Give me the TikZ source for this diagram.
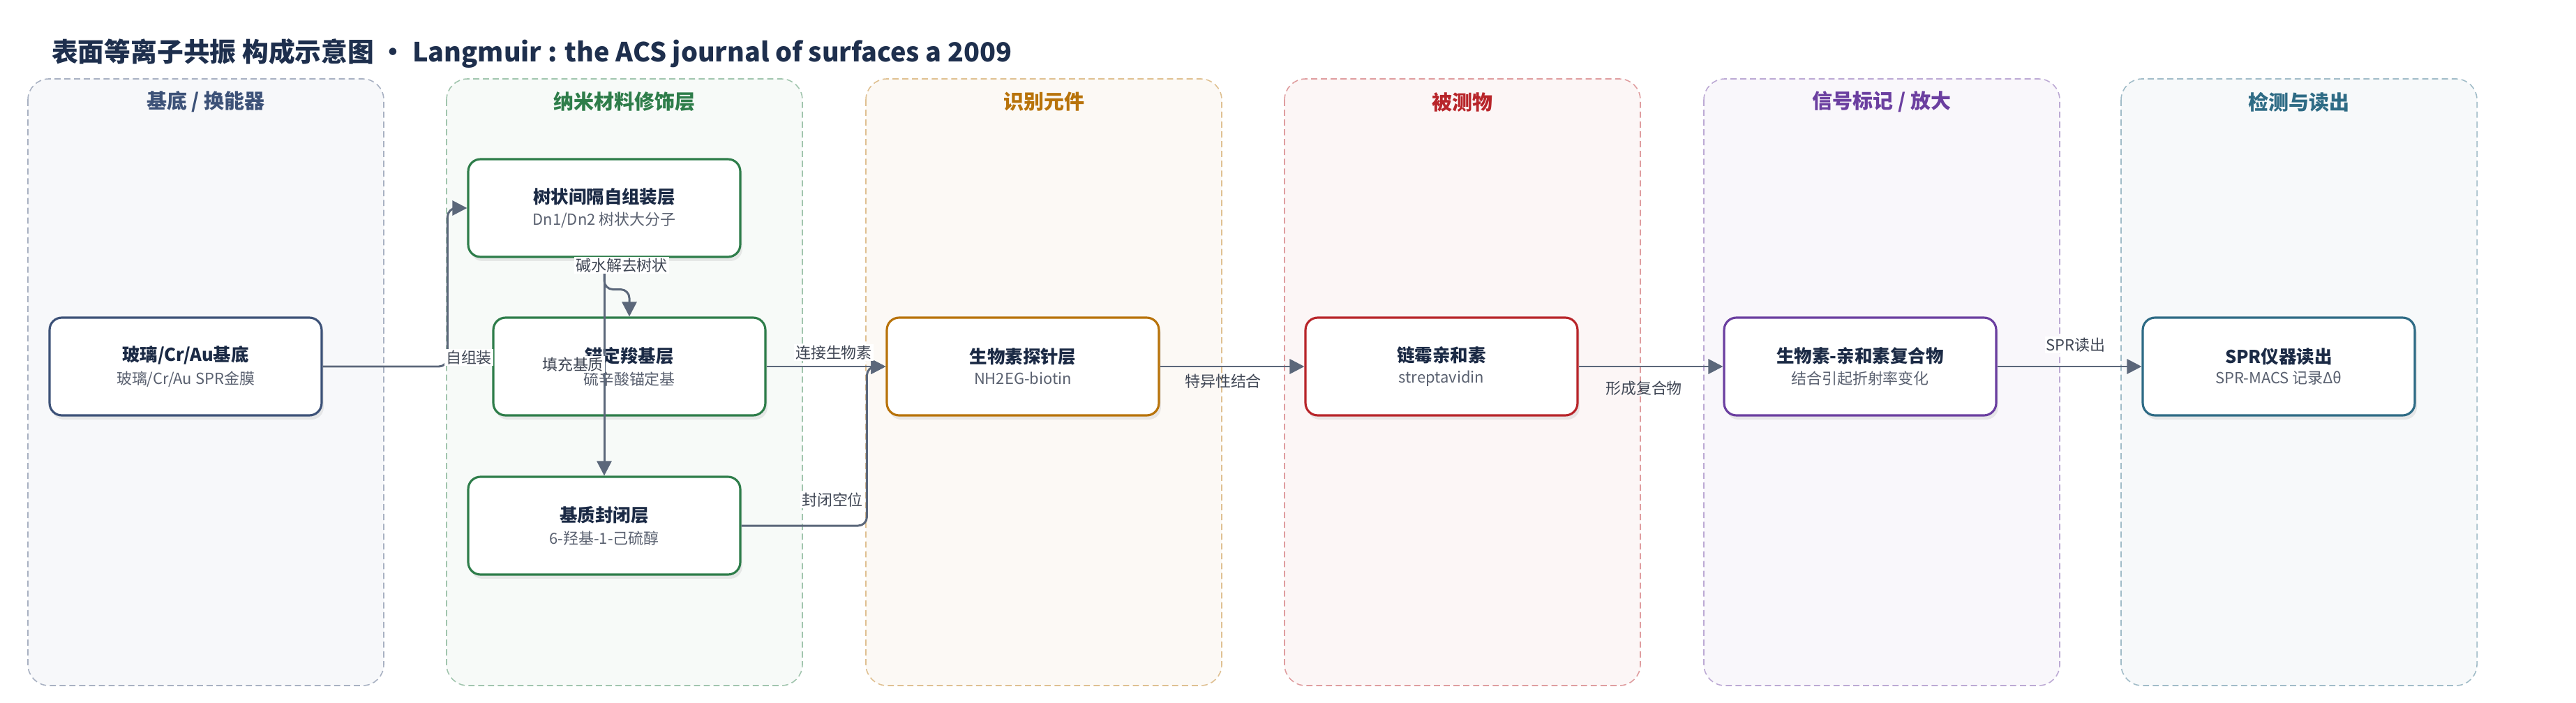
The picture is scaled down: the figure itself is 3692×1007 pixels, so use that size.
\documentclass[tikz,border=0pt]{standalone}
\usepackage{fontspec}
\setmainfont{Noto Sans CJK SC}
\usepackage{xcolor}
\usetikzlibrary{arrows.meta, positioning, calc, shadows}

\definecolor{titlec}{HTML}{1E2F4D}
\definecolor{edgec}{HTML}{5B677A}
\definecolor{labelc}{HTML}{3F4654}
\definecolor{subc}{HTML}{5A6170}
\definecolor{navyc}{HTML}{3D5278}
\definecolor{greenc}{HTML}{2E7D4A}
\definecolor{orangec}{HTML}{B8730A}
\definecolor{redc}{HTML}{B8252A}
\definecolor{purplec}{HTML}{6B3FA0}
\definecolor{tealc}{HTML}{2E6B85}

\newcommand{\boxtitle}[1]{{\fontsize{14.5}{18}\selectfont\bfseries\color{titlec!90!black}#1}}
\newcommand{\boxsub}[1]{{\fontsize{12.5}{15}\selectfont\color{subc}#1}}

\begin{document}
\begin{tikzpicture}[x=0.02cm, y=-0.02cm,
    lane/.style={draw=#1!45, fill=#1!4, dash pattern=on 5pt off 3pt, line width=0.9pt, rounded corners=0.6cm},
    lanetitle/.style={text=#1, font=\fontsize{16.5}{20}\selectfont\bfseries},
    box/.style={draw=#1, fill=white, line width=1.8pt, rounded corners=0.35cm,
        minimum width=7.8cm, minimum height=2.8cm, align=center,
        drop shadow={opacity=0.15, shadow xshift=0.06cm, shadow yshift=-0.12cm}},
    edge/.style={draw=edgec, line width=1.7pt, -{Triangle[length=0.42cm,width=0.42cm]}},
    elabel/.style={text=labelc, fill=white, inner sep=1pt, font=\fontsize{12.5}{15}\selectfont}]
    \useasboundingbox (0,0) rectangle (3692,1007);
    % title
    \node[anchor=west, text=titlec, font=\fontsize{21.5}{26}\selectfont\bfseries] (title) at (68,77)
        {表面等离子共振 构成示意图 · Langmuir : the ACS journal of surfaces a 2009};
    % lanes
    \draw[lane=navyc] (40,113) rectangle (550,982);
    \draw[lane=greenc] (640,113) rectangle (1150,982);
    \draw[lane=orangec] (1241,113) rectangle (1751,982);
    \draw[lane=redc] (1841,113) rectangle (2351,982);
    \draw[lane=purplec] (2442,113) rectangle (2952,982);
    \draw[lane=tealc] (3040,113) rectangle (3550,982);
    \node[lanetitle=navyc] (lt1) at (295,146) {基底 / 换能器};
    \node[lanetitle=greenc] (lt2) at (895,146) {纳米材料修饰层};
    \node[lanetitle=orangec] (lt3) at (1496,146) {识别元件};
    \node[lanetitle=redc] (lt4) at (2096,146) {被测物};
    \node[lanetitle=purplec] (lt5) at (2697,146) {信号标记 / 放大};
    \node[lanetitle=tealc] (lt6) at (3295,146) {检测与读出};
    % nodes
    \node[box=navyc] (glass) at (266,525) {\boxtitle{玻璃/Cr/Au基底}\\[5pt]\boxsub{玻璃/Cr/Au SPR金膜}};
    \node[box=greenc] (dend) at (866,298) {\boxtitle{树状间隔自组装层}\\[5pt]\boxsub{Dn1/Dn2 树状大分子}};
    \node[box=greenc] (anchor) at (902,525) {\boxtitle{锚定羧基层}\\[5pt]\boxsub{硫辛酸锚定基}};
    \node[box=greenc] (block) at (866,753) {\boxtitle{基质封闭层}\\[5pt]\boxsub{6-羟基-1-己硫醇}};
    \node[box=orangec] (probe) at (1466,525) {\boxtitle{生物素探针层}\\[5pt]\boxsub{NH2EG-biotin}};
    \node[box=redc] (strep) at (2066,525) {\boxtitle{链霉亲和素}\\[5pt]\boxsub{streptavidin}};
    \node[box=purplec] (complex) at (2666,525) {\boxtitle{生物素-亲和素复合物}\\[5pt]\boxsub{结合引起折射率变化}};
    \node[box=tealc] (spr) at (3266,525) {\boxtitle{SPR仪器读出}\\[5pt]\boxsub{SPR-MACS 记录Δθ}};
    % connectors
    \draw[edge, rounded corners=0.25cm] (glass.east) -| ($(dend.west)+(-28,0)$) -- (dend.west);
    \draw[edge, rounded corners=0.25cm] (dend.south) -- ++(0,45) -| (anchor.north);
    \draw[edge] (dend.south) -- (block.north);
    \draw[edge] (anchor.east) -- (probe.west);
    \draw[edge, rounded corners=0.25cm] (block.east) -| ($(probe.west)+(-27,0)$) -- (probe.west);
    \draw[edge] (probe.east) -- (strep.west);
    \draw[edge] (strep.east) -- (complex.west);
    \draw[edge] (complex.east) -- (spr.west);
    % connector labels
    \node[elabel] (l1) at (672,512) {自组装};
    \node[elabel] (l2) at (891,380) {碱水解去树状};
    \node[elabel] (l3) at (821,522) {填充基质};
    \node[elabel] (l4) at (1195,505) {连接生物素};
    \node[elabel] (l5) at (1193,716) {封闭空位};
    \node[elabel, fill=none] (l6) at (1753,546) {特异性结合};
    \node[elabel, fill=none] (l7) at (2356,556) {形成复合物};
    \node[elabel] (l8) at (2975,494) {SPR读出};
\end{tikzpicture}
\end{document}
